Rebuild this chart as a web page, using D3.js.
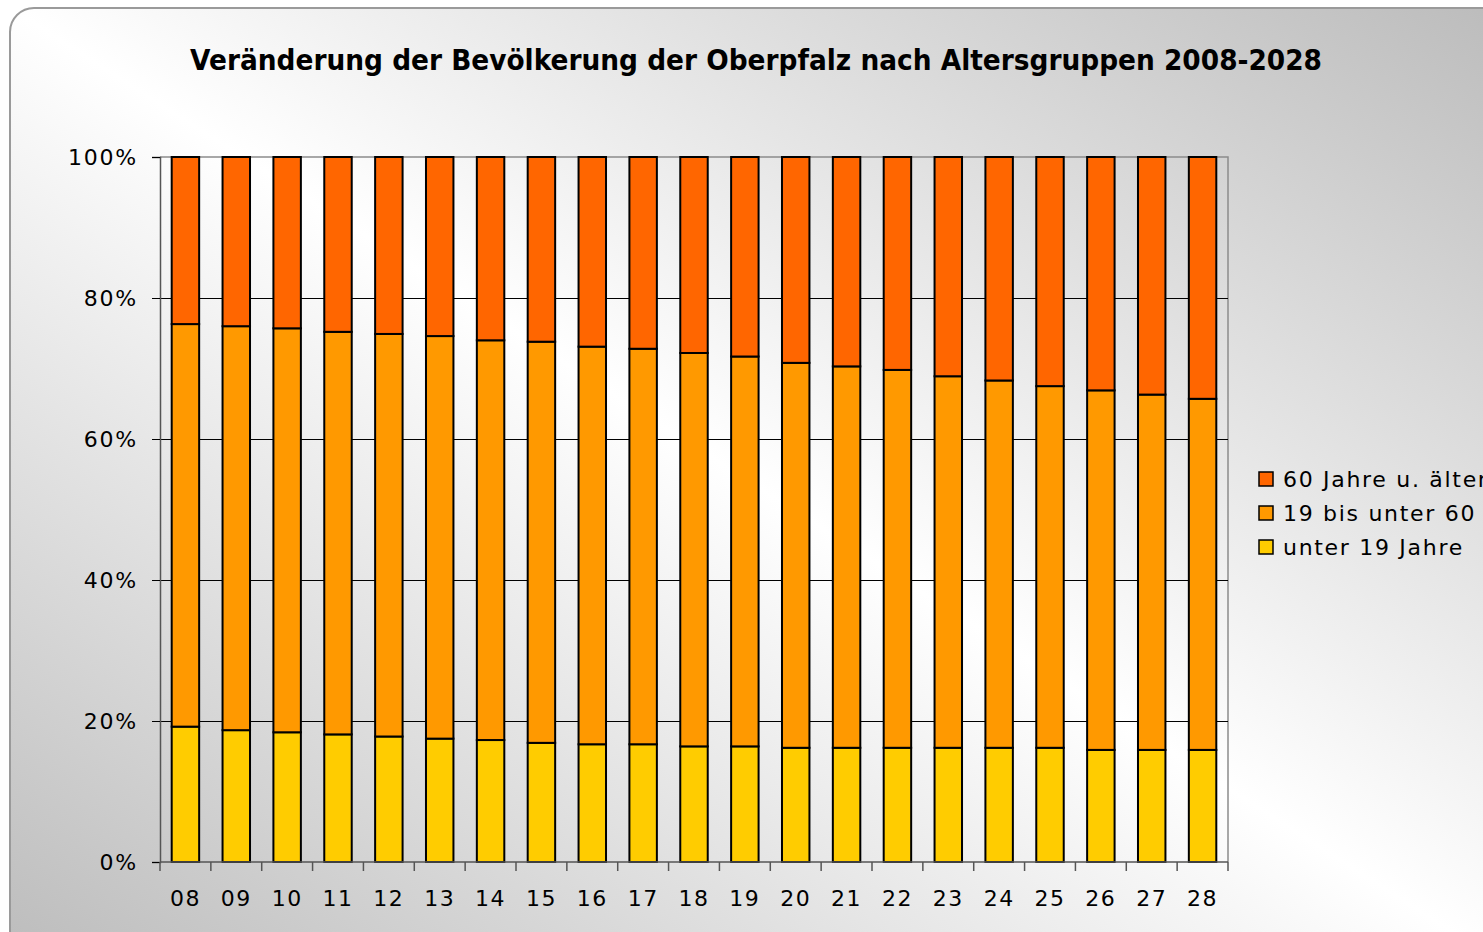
<!DOCTYPE html>
<html>
<head>
<meta charset="utf-8">
<script src="https://cdn.jsdelivr.net/npm/d3@7"></script>
<style>
  body { margin: 0; background: #fff; }
  svg { display: block; }
  text { font-family: "DejaVu Sans", Verdana, sans-serif; fill: #000; }
</style>
</head>
<body>
<div id="chart"></div>
<script>
// years 2008..2028 (shown as two digits)
var years = ["08","09","10","11","12","13","14","15","16","17","18","19","20","21","22","23","24","25","26","27","28"];

// shares in percent
var unter19 = [19.2,18.7,18.4,18.1,17.8,17.5,17.3,16.9,16.7,16.7,16.4,16.4,16.2,16.2,16.2,16.2,16.2,16.2,15.9,15.9,15.9];
var bis60   = [57.1,57.3,57.3,57.1,57.1,57.1,56.7,56.9,56.4,56.1,55.8,55.3,54.6,54.1,53.6,52.7,52.1,51.3,51.0,50.4,49.8];
var ab60    = [23.7,24.0,24.3,24.8,25.1,25.4,26.0,26.2,26.9,27.2,27.8,28.3,29.2,29.7,30.2,31.1,31.7,32.5,33.1,33.7,34.3];

var seriesNames = ["unter 19 Jahre", "19 bis unter 60", "60 Jahre u. älter"];
var seriesColors = ["#FFCC00", "#FF9900", "#FF6600"];
var yTicks = [0, 20, 40, 60, 80, 100];

var width = 1483, height = 932;
var plot = {left: 160, right: 1228, top: 157, bottom: 862};

var svg = d3.select("#chart").append("svg")
  .attr("width", width)
  .attr("height", height);

// background gradient
var grad = svg.append("defs").append("linearGradient")
  .attr("id", "bg")
  .attr("x1", "0%").attr("y1", "100%")
  .attr("x2", "100%").attr("y2", "0%");
grad.append("stop").attr("offset", "0%").attr("stop-color", "#bababa");
grad.append("stop").attr("offset", "50%").attr("stop-color", "#ffffff");
grad.append("stop").attr("offset", "100%").attr("stop-color", "#bababa");

svg.append("rect")
  .attr("x", 10).attr("y", 8)
  .attr("width", 1530).attr("height", 980)
  .attr("rx", 24).attr("ry", 24)
  .attr("fill", "url(#bg)")
  .attr("stroke", "#9a9a9a")
  .attr("stroke-width", 2);

// title
svg.append("text")
  .attr("x", 756).attr("y", 70)
  .attr("text-anchor", "middle")
  .attr("font-size", 28)
  .attr("font-weight", "bold")
  .attr("textLength", 1132)
  .attr("lengthAdjust", "spacingAndGlyphs")
  .attr("fill", "#111")
  .text("Veränderung der Bevölkerung der Oberpfalz nach Altersgruppen 2008-2028");

var x = d3.scaleBand()
  .domain(years)
  .range([plot.left, plot.right])
  .paddingInner(0.46)
  .paddingOuter(0.23);

var y = d3.scaleLinear()
  .domain([0, 100])
  .range([plot.bottom, plot.top]);

// plot frame (top and right, grey)
svg.append("path")
  .attr("d", "M" + plot.left + "," + plot.top + "H" + plot.right + "V" + plot.bottom)
  .attr("fill", "none")
  .attr("stroke", "#8c8c8c")
  .attr("stroke-width", 1.5);

// gridlines
svg.append("g").selectAll("line")
  .data(yTicks.filter(function(d) { return d > 0 && d < 100; }))
  .enter()
  .append("line")
  .attr("x1", plot.left).attr("x2", plot.right)
  .attr("y1", function(d) { return Math.round(y(d)) + 0.5; })
  .attr("y2", function(d) { return Math.round(y(d)) + 0.5; })
  .attr("stroke", "#000")
  .attr("stroke-width", 1);

// stacked bars
var table = years.map(function(yr, i) {
  return {year: yr, s0: unter19[i], s1: bis60[i], s2: ab60[i]};
});
var stack = d3.stack().keys(["s0", "s1", "s2"]);
var layers = stack(table);

svg.append("g").selectAll("g")
  .data(layers)
  .enter()
  .append("g")
  .attr("fill", function(d, i) { return seriesColors[i]; })
  .selectAll("rect")
  .data(function(d) { return d; })
  .enter()
  .append("rect")
  .attr("x", function(d) { return x(d.data.year); })
  .attr("width", x.bandwidth())
  .attr("y", function(d) { return y(d[1]); })
  .attr("height", function(d) { return y(d[0]) - y(d[1]); })
  .attr("stroke", "#000")
  .attr("stroke-width", 2);

// y axis
var yAxis = d3.axisLeft(y)
  .tickValues(yTicks)
  .tickFormat(function(d) { return d + "%"; })
  .tickSize(8)
  .tickPadding(14);

var gy = svg.append("g")
  .attr("transform", "translate(" + plot.left + ",0)")
  .call(yAxis);
gy.select(".domain").attr("stroke", "#555").attr("stroke-width", 1.5);
gy.selectAll(".tick line").attr("stroke", "#000");
gy.selectAll("text")
  .attr("font-size", 22)
  .attr("letter-spacing", 1.8)
  .attr("font-family", "DejaVu Sans")
  .attr("fill", "#111");

// x axis: ticks on band boundaries
var gx = svg.append("g")
  .attr("transform", "translate(0," + plot.bottom + ")");
gx.append("line")
  .attr("x1", plot.left).attr("x2", plot.right)
  .attr("stroke", "#555").attr("stroke-width", 1.5);
gx.selectAll("line.tk")
  .data(d3.range(years.length + 1))
  .enter()
  .append("line")
  .attr("class", "tk")
  .attr("x1", function(i) { return plot.left + i * x.step(); })
  .attr("x2", function(i) { return plot.left + i * x.step(); })
  .attr("y1", 0).attr("y2", 9)
  .attr("stroke", "#555").attr("stroke-width", 1.5);
gx.selectAll("text")
  .data(years)
  .enter()
  .append("text")
  .attr("x", function(d) { return x(d) + x.bandwidth() / 2; })
  .attr("y", 44)
  .attr("text-anchor", "middle")
  .attr("font-size", 22)
  .attr("letter-spacing", 1.5)
  .attr("fill", "#111")
  .text(function(d) { return d; });

// legend (top entry = top of stack)
var legendOrder = [2, 1, 0];
var legend = svg.append("g").selectAll("g")
  .data(legendOrder)
  .enter()
  .append("g")
  .attr("transform", function(d, i) { return "translate(1259," + (479 + i * 34) + ")"; });
legend.append("rect")
  .attr("x", 0).attr("y", -7)
  .attr("width", 14).attr("height", 14)
  .attr("fill", function(d) { return seriesColors[d]; })
  .attr("stroke", "#000")
  .attr("stroke-width", 1.5);
legend.append("text")
  .attr("x", 24).attr("y", 0)
  .attr("dy", "0.36em")
  .attr("font-size", 22)
  .attr("letter-spacing", 1.7)
  .attr("fill", "#111")
  .text(function(d) { return seriesNames[d]; });
</script>
</body>
</html>
